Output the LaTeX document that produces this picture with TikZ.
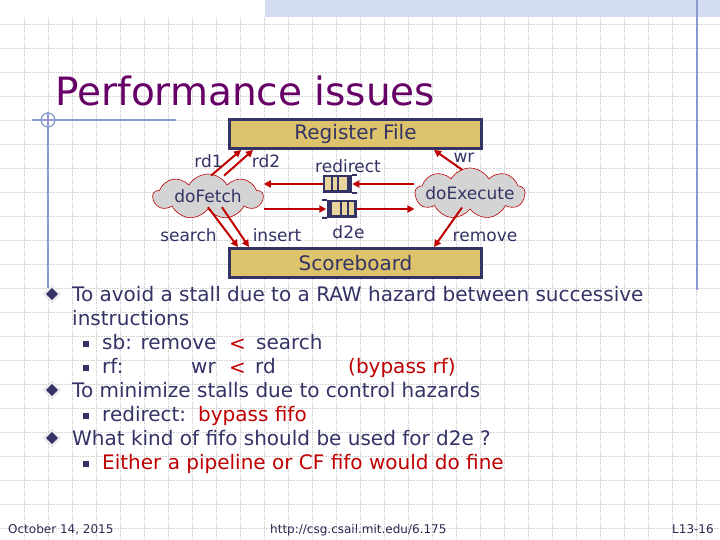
\documentclass[tikz,border=0pt]{standalone}
\usepackage{fontspec}
\setmainfont{DejaVu Sans}
\usetikzlibrary{arrows.meta,positioning,shapes.symbols,shapes.geometric}
\definecolor{inkblue}{HTML}{333366}
\definecolor{titlepurple}{HTML}{660066}
\definecolor{hotred}{HTML}{C00000}
\definecolor{boxtan}{HTML}{DDC36B}
\definecolor{slottan}{HTML}{E8D59C}
\definecolor{cloudgray}{HTML}{D4D4D4}
\definecolor{railblue}{HTML}{8A9AD0}
\definecolor{bandblue}{HTML}{D3DCF0}

\begin{document}
\begin{tikzpicture}[x=1pt, y=-1pt,
  gridline/.style={gray!35, densely dotted, line width=0.6pt},
  rail/.style={railblue, line width=1.2pt},
  regbox/.style={draw=inkblue, fill=boxtan, line width=3pt, minimum width=252pt, minimum height=29pt, inner sep=0pt, text=inkblue, font=\fontsize{20}{24}\selectfont},
  puff/.style={cloud, cloud puffs=9, cloud puff arc=120, draw=hotred, fill=cloudgray, line width=0.6pt, minimum width=110pt, minimum height=46pt, inner sep=0pt, text=inkblue, font=\fontsize{17}{20}\selectfont},
  fifo/.style={draw=inkblue, fill=slottan, line width=2.5pt, minimum width=27pt, minimum height=15.5pt, inner sep=0pt},
  slotline/.style={inkblue, line width=1.6pt},
  fifoend/.style={inkblue, line width=2.5pt},
  arr/.style={hotred, line width=2pt, -{Triangle[length=7pt,width=7pt]}},
  lbl/.style={anchor=base, inner sep=0pt, text=inkblue, font=\fontsize{17}{20}\selectfont},
  body/.style={anchor=base west, inner sep=0pt, text=inkblue, font=\fontsize{20}{24}\selectfont},
  gem/.style={diamond, fill=inkblue, draw=gray!70, double=white, double distance=1pt, minimum size=15pt, inner sep=0pt},
  tick/.style={rectangle, fill=inkblue, minimum size=5.5pt, inner sep=0pt},
  foot/.style={anchor=base west, inner sep=0pt, text=inkblue!80!black, font=\fontsize{12}{14}\selectfont}
]
\useasboundingbox (0,0) rectangle (720,540);
\fill[white] (0,0) rectangle (720,540);

% background grid and slide decoration
\foreach \gx in {24,48,...,696}
  \draw[gridline] (\gx,17) -- (\gx,540);
\foreach \gy in {24,48,...,528}
  \draw[gridline] (0,\gy) -- (720,\gy);
\fill[bandblue] (265,0) rectangle (720,17);
\draw[rail] (697,0) -- (697,290);
\draw[rail] (32,120) -- (176,120);
\draw[rail] (48,112) -- (48,288);
\draw[rail] (48,120) circle[radius=7];

\node[anchor=base west, inner sep=0pt, text=titlepurple, font=\fontsize{39}{46}\selectfont] (title) at (55,106) {Performance issues};

% register file, scoreboard and the two rules
\node[regbox] (rf) at (355.5,134) {Register File};
\node[regbox, below=97pt of rf] (sb) {Scoreboard};
\node[puff, minimum height=45pt] (fetch) at (208,196.5) {\makebox[0pt]{doFetch}};
\node[puff, minimum height=51pt] (exec) at (470,193.5) {\makebox[0pt]{doExecute}};

% fifos
\node[fifo] (rq) at (337.5,184) {};
\foreach \dx in {9,15.5}
  \draw[slotline] ([xshift=\dx pt]rq.north west) -- ([xshift=\dx pt]rq.south west);
\fill[inkblue] ([xshift=-5pt]rq.north east) rectangle (rq.south east);
\draw[fifoend] (rq.north east) -- ++(5,0);
\draw[fifoend] (rq.south east) -- ++(5,0);

\node[fifo] (dq) at (342,209) {};
\foreach \dx in {9,15.5}
  \draw[slotline] ([xshift=-\dx pt]dq.north east) -- ([xshift=-\dx pt]dq.south east);
\fill[inkblue] (dq.north west) rectangle ([xshift=5pt]dq.south west);
\draw[fifoend] (dq.north west) -- ++(-5,0);
\draw[fifoend] (dq.south west) -- ++(-5,0);

% connectors
\draw[arr] ([xshift=3pt,yshift=-2pt]fetch.north) -- ([xshift=13pt]rf.south west);
\draw[arr] ([xshift=16pt,yshift=-2pt]fetch.north) -- ([xshift=25pt]rf.south west);
\draw[arr] ([xshift=-8pt,yshift=-2pt]exec.north) -- ([xshift=-49pt]rf.south east);
\draw[arr] ([yshift=2pt]fetch.south) -- ([xshift=10pt]sb.north west);
\draw[arr] ([xshift=14pt,yshift=2pt]fetch.south) -- ([xshift=21pt]sb.north west);
\draw[arr] ([xshift=-8pt,yshift=2pt]exec.south) -- ([xshift=-49pt]sb.north east);
\draw[arr] (exec.west |- rq.east) -- (rq.east);
\draw[arr] (rq.west) -- (fetch.east |- rq.west);
\draw[arr] (fetch.east |- dq.west) -- ([xshift=-1pt]dq.west);
\draw[arr] (dq.east) -- (exec.west |- dq.east);

% connector labels
\node[lbl] (rdone) at (208.5,168) {rd1};
\node[lbl] (rdtwo) at (266,168) {rd2};
\node[lbl] (wrlbl) at (464,163) {wr};
\node[lbl] (redir) at (348,173) {redirect};
\node[lbl] (dtwoe) at (348.5,238) {d2e};
\node[lbl] (srch) at (188.5,241) {search};
\node[lbl] (ins) at (277,241) {insert};
\node[lbl] (rem) at (485,241) {remove};

% bullets
\foreach \yy in {294,390,438}
  \node[gem] (gem\yy) at (52,\yy) {};
\foreach \yy in {344,368,416,464}
  \node[tick] (tick\yy) at (86,\yy) {};

\node[body] (lineA) at (72,301) {To avoid a stall due to a RAW hazard between successive};
\node[body] (lineB) at (72,325) {instructions};
\node[body] (sbA) at (102,349) {sb: remove};
\node[body, text=hotred] (sbLt) at (229,350) {<};
\node[body] (sbB) at (256,349) {search};
\node[body] (rfA) at (102,373) {rf:};
\node[body] (rfWr) at (191,373) {wr};
\node[body, text=hotred] (rfLt) at (229,374) {<};
\node[body] (rfRd) at (255,373) {rd};
\node[body, text=hotred] (rfBy) at (348,373) {(bypass rf)};
\node[body] (lineC) at (72,397) {To minimize stalls due to control hazards};
\node[body] (redA) at (102,421) {redirect:};
\node[body, text=hotred] (redB) at (198,421) {bypass fifo};
\node[body] (lineD) at (72,445) {What kind of fifo should be used for d2e ?};
\node[body, text=hotred] (lineE) at (102,469) {Either a pipeline or CF fifo would do fine};

% footer
\node[foot] (date) at (8,533) {October 14, 2015};
\node[foot] (url) at (270,533) {http://csg.csail.mit.edu/6.175};
\node[foot] (slide) at (672,533) {L13-16};
\end{tikzpicture}
\end{document}
